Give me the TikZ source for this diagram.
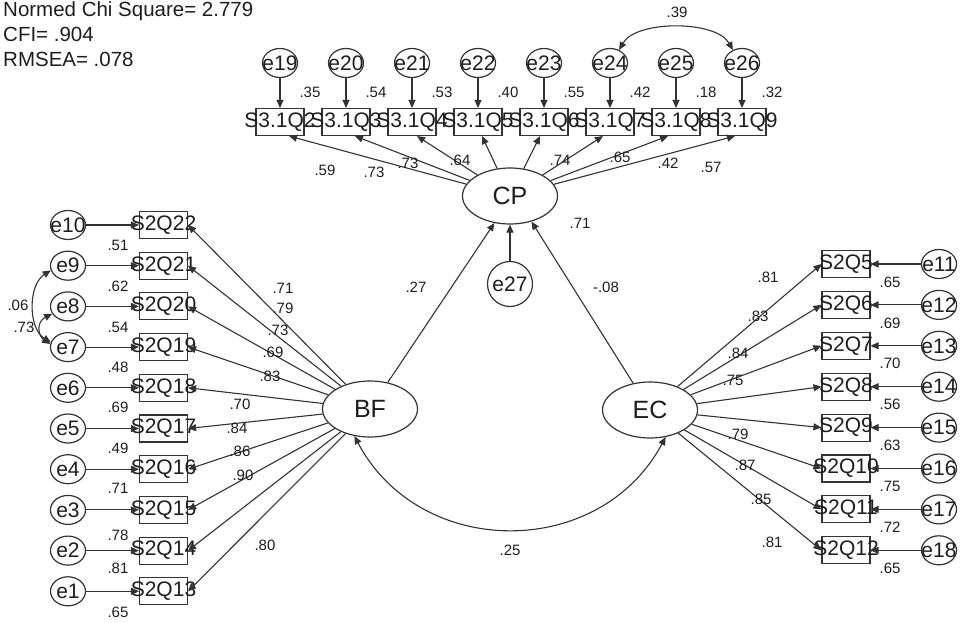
\documentclass[tikz,border=0pt]{standalone}
\usepackage{fontspec}
\setmainfont{Liberation Sans}
\usetikzlibrary{arrows.meta,shapes.geometric}
\newcommand\mkzw[1]{\makebox[0pt][c]{#1}}
\definecolor{ink}{HTML}{1E1E1E}
\definecolor{lin}{HTML}{333333}
\tikzset{
  lat/.style={ellipse, draw=lin, line width=1.2pt, minimum width=95pt, minimum height=56pt, inner sep=0pt, text=ink, font=\fontsize{25}{28}\selectfont},
  err/.style={ellipse, draw=lin, line width=1.2pt, minimum width=35pt, minimum height=29pt, inner sep=0pt, text=ink, font=\fontsize{21}{24}\selectfont},
  obs/.style={rectangle, draw=lin, line width=1.1pt, minimum width=48pt, minimum height=27pt, inner sep=0pt, text=ink, font=\fontsize{21}{24}\selectfont},
  num/.style={inner sep=0pt, text=ink, font=\fontsize{15}{18}\selectfont},
  hdr/.style={inner sep=0pt, anchor=base west, text=ink, font=\fontsize{20.5}{24}\selectfont},
  arr/.style={draw=lin, line width=1.1pt, -{Triangle[length=8pt,width=7pt]}},
  darr/.style={draw=lin, line width=1.1pt, {Triangle[length=8pt,width=7pt]}-{Triangle[length=8pt,width=7pt]}}
}
\begin{document}
\begin{tikzpicture}[x=1pt,y=-1pt]
\useasboundingbox (0,0) rectangle (961,623);
\fill[white] (0,0) rectangle (961,623);
% header
\node[hdr] (h1) at (3,17) {Normed Chi Square= 2.779};
\node[hdr] (h2) at (3,42) {CFI= .904};
\node[hdr] (h3) at (3,67) {RMSEA= .078};
% latent variables
\node[lat] (CP) at (510,196) {CP};
\node[lat] (BF) at (370,409) {BF};
\node[lat] (EC) at (650,410) {EC};
\node[err, minimum width=45pt, minimum height=45pt] (e27) at (510,284) {\mkzw{e27}};
\draw[arr] (e27) -- (CP);
\draw[arr] (BF) -- (CP.-120);
\draw[arr] (EC) -- (CP.-50);
\draw[darr] (BF.-120) .. controls (420,560) and (600,560) .. (EC.-60);
\node[num] (n27) at (416,287) {.27};
\node[num] (n08) at (606,287) {-.08};
\node[num] (n71) at (580,223) {.71};
\node[num] (n25) at (510,550) {.25};
% top row
\foreach [count=\k from 0] \q/\r/\sh in {2/.35/9,3/.54/9,4/.53/5,5/.40/4,6/.55/-4,7/.42/-7,8/.18/-8,9/.32/-7} {
  \pgfmathsetmacro\xx{280+66*\k}
  \pgfmathtruncatemacro\en{19+\k}
  \node[err] (e\en) at (\xx,63) {\mkzw{e\en}};
  \node[obs] (s\q) at (\xx,122) {\mkzw{S3.1Q\q}};
  \draw[arr] (e\en) -- (s\q);
  \draw[arr] (CP) -- ([xshift=\sh pt]s\q.south);
  \node[num] (rt\q) at (\xx+30,92) {\r};
}
\draw[darr] (e24.55) .. controls (636,20) and (716,20) .. (e26.125);
\node[num] (n39) at (677,12) {.39};
\foreach \v/\x/\y in {.59/325/170,.73/374/172,.73/408/163,.64/460/160,.74/560/160,.65/620/157,.42/668/163,.57/711/167}
  \node[num] at (\x,\y) {\v};
% left column
\foreach [count=\k from 0] \n/\q/\r/\ry in {10/22/.51/245,9/21/.62/286,8/20/.54/327,7/19/.48/367,6/18/.69/407,5/17/.49/448,4/16/.71/488,3/15/.78/535,2/14/.81/568,1/13/.65/612} {
  \pgfmathsetmacro\yy{225+40.7*\k}
  \node[err] (e\n) at (68,\yy) {\mkzw{e\n}};
  \node[obs] (l\q) at (163.5,\yy) {\mkzw{S2Q\q}};
  \draw[arr] (e\n) -- (l\q);
  \draw[arr] (BF) -- (l\q.east);
  \node[num] (rl\q) at (118,\ry) {\r};
}
\draw[darr] (e9.195) .. controls (28,285) and (28,328) .. (e7.165);
\draw[darr] (e8.205) .. controls (36,322) and (38,336) .. (e7.170);
\node[num] (n06) at (18,305) {.06};
\node[num] (n73) at (24,327) {.73};
\foreach \v/\x/\y in {.71/283/288,.79/283/308,.73/278/330,.69/273/352,.83/270/376,.70/240/404,.84/237/428,.86/240/451,.90/243/475,.80/265/545}
  \node[num] at (\x,\y) {\v};
% right column
\foreach [count=\k from 0] \n/\q/\r in {11/5/.65,12/6/.69,13/7/.70,14/8/.56,15/9/.63,16/10/.75,17/11/.72,18/12/.65} {
  \pgfmathsetmacro\yy{264+40.9*\k}
  \node[err] (e\n) at (939,\yy) {\mkzw{e\n}};
  \node[obs] (r\q) at (846,\yy) {\mkzw{S2Q\q}};
  \draw[arr] (e\n) -- (r\q);
  \draw[arr] (EC) -- (r\q.west);
  \node[num] (rr\q) at (890,\yy+18) {\r};
}
\foreach \v/\x/\y in {.81/768/277,.83/758/316,.84/738/353,.75/733/380,.79/738/434,.87/745/465,.85/761/499,.81/772/542}
  \node[num] at (\x,\y) {\v};
\end{tikzpicture}
\end{document}
